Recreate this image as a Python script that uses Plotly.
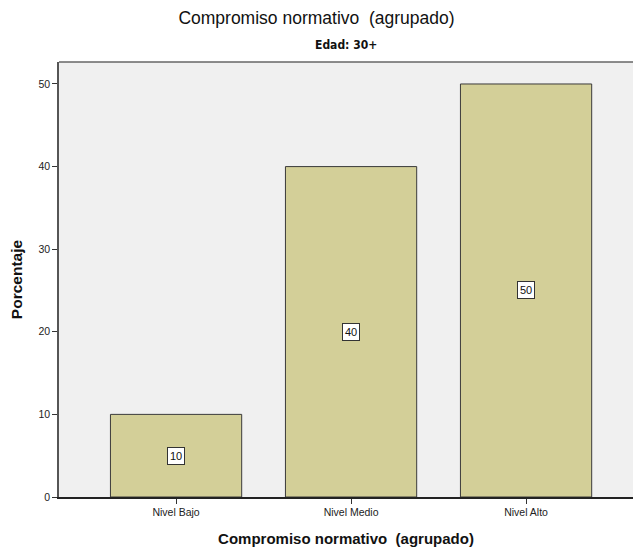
import plotly.graph_objects as go

# Percentage of respondents aged 30+ by grouped normative commitment level
categorias = ["Nivel Bajo", "Nivel Medio", "Nivel Alto"]
porcentajes = [10, 40, 50]
y_ticks = [0, 10, 20, 30, 40, 50]

FONT = "Liberation Sans, Arial, sans-serif"
NARROW = "DejaVu Sans Condensed, Liberation Sans Narrow, Arial Narrow, sans-serif"
BAR_FILL = "#d3cf98"
EDGE = "#3a3a3a"

fig = go.Figure()
fig.add_trace(go.Bar(
    x=list(range(len(categorias))),
    y=porcentajes,
    marker=dict(color=BAR_FILL, line=dict(color=EDGE, width=1)),
    hoverinfo="skip",
))

# value labels in white boxes at mid-height of each bar
for i, v in enumerate(porcentajes):
    fig.add_annotation(
        x=i, y=v / 2, text=str(v), showarrow=False,
        font=dict(family=FONT, size=11, color="#111"),
        bgcolor="white", bordercolor="#333", borderwidth=1, borderpad=2,
    )

# panel subtitle
fig.add_annotation(
    x=0.5, xref="paper", y=1 + (62 - 45) / 435, yref="paper", yanchor="middle",
    text="<b>Edad: 30+</b>", showarrow=False,
    font=dict(family=NARROW, size=12, color="#111"),
)

# top border of the plotting area
fig.add_shape(type="line", xref="paper", yref="paper", x0=0, x1=1, y0=1, y1=1,
              line=dict(color="#666", width=1.5))

fig.update_layout(
    width=633, height=552,
    margin=dict(l=59, r=0, t=62, b=55),
    paper_bgcolor="white",
    plot_bgcolor="#f0f0f0",
    bargap=0.25,
    showlegend=False,
    font=dict(family=FONT, color="#111"),
    title=dict(
        text="Compromiso normativo  (agrupado)",
        x=0.5, xanchor="center", y=1 - 18 / 552, yanchor="middle",
        font=dict(family=FONT, size=17.5, color="#111"),
    ),
    xaxis=dict(
        tickmode="array",
        tickvals=list(range(len(categorias))),
        ticktext=categorias,
        range=[-0.669, 2.611],
        showgrid=False, zeroline=False,
        showline=True, linecolor="#222", linewidth=1.5,
        ticks="outside", ticklen=5, tickcolor="#333",
        tickfont=dict(family=FONT, size=10.5, color="#222"),
        title=dict(text="<b>Compromiso normativo  (agrupado)</b>",
                   font=dict(family=FONT, size=15, color="#111"), standoff=16),
    ),
    yaxis=dict(
        tickmode="array", tickvals=y_ticks,
        range=[0, 52.66],
        showgrid=False, zeroline=False,
        showline=True, linecolor="#555", linewidth=1.5,
        ticks="outside", ticklen=5, tickcolor="#333",
        tickfont=dict(family=FONT, size=10.5, color="#222"),
        title=dict(text="<b>Porcentaje</b>",
                   font=dict(family=FONT, size=15.5, color="#111"), standoff=12),
    ),
)

fig.write_html("out.html")
